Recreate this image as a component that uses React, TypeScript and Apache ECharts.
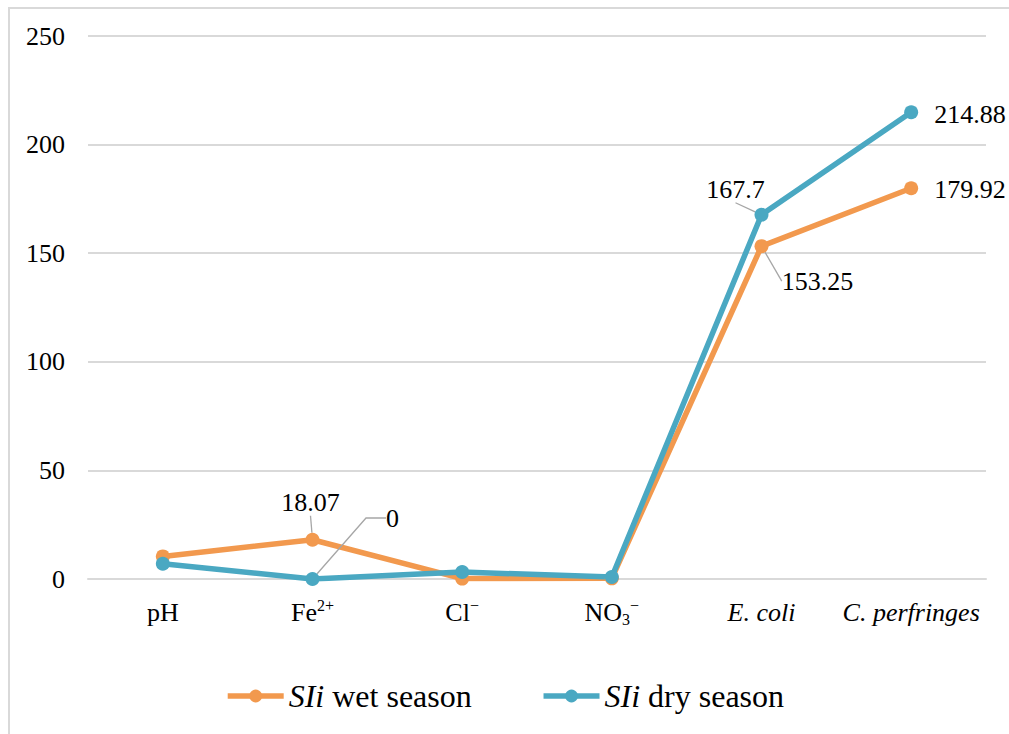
import React, { useEffect, useRef } from 'react';
import * as echarts from 'echarts';

// ---- data ----
const categories = ['pH', 'Fe2+', 'Cl−', 'NO3−', 'E. coli', 'C. perfringes'];
const wetSeason = [10.4, 18.07, 0.2, 0.3, 153.25, 179.92];
const drySeason = [7.0, 0, 3.2, 0.9, 167.7, 214.88];
const seriesNames = ['SIi wet season', 'SIi dry season'];
const wetLabelled = [false, true, false, false, true, true];
const dryLabelled = [false, true, false, false, true, true];
const yMin = 0;
const yMax = 250;
const yInterval = 50;

// ---- styles ----
const FONT = 'Liberation Serif';
const ORANGE = '#F2994E';
const TEAL = '#4AA8C2';
const GRID = '#d9d9d9';
const LEADER = '#a6a6a6';

const categoryRich: Record<string, string> = {
  'pH': 'pH',
  'Fe2+': 'Fe{sup|2+}',
  'Cl−': 'Cl{sup|−}',
  'NO3−': 'NO{sub|3}{sup|−}',
  'E. coli': '{it|E. coli}',
  'C. perfringes': '{it|C. perfringes}',
};

type Place = { position: string; dx: number; dy: number; length2?: number; line: boolean; spacer?: number; lh?: number };
// label placement per [seriesIndex][dataIndex]
const labelPlace: Record<number, Record<number, Place>> = {
  0: {
    1: { position: 'top', dx: -2, dy: -12, line: true },
    4: { position: 'bottom', dx: 56, dy: 10, line: true },
    5: { position: 'right', dx: 11, dy: 1, line: false },
  },
  1: {
    1: { position: 'top', dx: 80, dy: -36, length2: 20, line: true },
    4: { position: 'top', dx: -26, dy: 0, line: true, spacer: 28, lh: 26 },
    5: { position: 'right', dx: 11, dy: 2, line: false },
  },
};

function buildData(values: number[], labelled: boolean[], sIdx: number) {
  return values.map((v, i) => {
    if (!labelled[i]) return { value: v };
    const p = labelPlace[sIdx][i];
    const label: any = { show: true, position: p.position };
    if (p.spacer) {
      label.formatter = (prm: any) => `{sp|}{v|${prm.value}}{sp|}`;
      label.rich = {
        sp: { width: p.spacer, height: 1 },
        v: { fontSize: 26, fontFamily: FONT, color: '#000', lineHeight: p.lh },
      };
    }
    return {
      value: v,
      label,
      labelLine: { show: p.line, length2: p.length2 || 0 },
    };
  });
}

export default function App() {
  const ref = useRef<HTMLDivElement>(null);
  useEffect(() => {
    if (!ref.current) return;
    const chart = echarts.init(ref.current, undefined, { renderer: 'svg' });
    const labelBase = {
      show: false,
      fontSize: 26,
      fontFamily: FONT,
      color: '#000',
    };
    const lineSeries = (name: string, color: string, values: number[], labelled: boolean[], sIdx: number) => ({
      name,
      type: 'line',
      data: buildData(values, labelled, sIdx),
      symbol: 'circle',
      symbolSize: 14,
      color,
      lineStyle: { width: 5.5, color },
      itemStyle: { color },
      label: labelBase,
      labelLine: { show: true, lineStyle: { color: LEADER, width: 1.3 } },
      labelLayout: (params: any) => {
        const p = labelPlace[params.seriesIndex]?.[params.dataIndex];
        if (!p) return {};
        return { dx: p.dx, dy: p.dy };
      },
      emphasis: { disabled: true },
    });
    chart.setOption({
      animation: false,
      textStyle: { fontFamily: FONT },
      graphic: [
        {
          type: 'rect',
          silent: true,
          z: -10,
          shape: { x: 9, y: 8, width: 1300, height: 1000 },
          style: { fill: 'none', stroke: GRID, lineWidth: 2 },
        },
      ],
      grid: { left: 88, right: 23, top: 36, bottom: 155, containLabel: false },
      legend: {
        data: seriesNames,
        bottom: 17,
        left: 'center',
        itemWidth: 56,
        itemHeight: 16,
        itemGap: 69,
        lineStyle: { width: 5.5 },
        formatter: (name: string) => name.replace('SIi', '{it|SIi}'),
        textStyle: {
          fontSize: 32,
          fontFamily: FONT,
          color: '#000',
          rich: {
            it: { fontSize: 32, fontFamily: FONT, fontStyle: 'italic', color: '#000' },
          },
        },
      },
      xAxis: {
        type: 'category',
        data: categories,
        boundaryGap: true,
        axisLine: { show: true, lineStyle: { color: GRID, width: 2 } },
        axisTick: { show: false },
        axisLabel: {
          interval: 0,
          margin: 18,
          fontSize: 26,
          fontFamily: FONT,
          color: '#000',
          lineHeight: 30,
          formatter: (v: string) => categoryRich[v] ?? v,
          rich: {
            sup: { fontSize: 16, fontFamily: FONT, color: '#000', lineHeight: 20, verticalAlign: 'top' },
            sub: { fontSize: 16, fontFamily: FONT, color: '#000', lineHeight: 18, verticalAlign: 'bottom' },
            it: { fontSize: 26, fontFamily: FONT, color: '#000', fontStyle: 'italic', lineHeight: 30 },
          },
        },
      },
      yAxis: {
        type: 'value',
        min: yMin,
        max: yMax,
        interval: yInterval,
        axisLine: { show: false },
        axisTick: { show: false },
        splitLine: { show: true, lineStyle: { color: GRID, width: 2 } },
        axisLabel: { margin: 23, fontSize: 26, fontFamily: FONT, color: '#000' },
      },
      series: [
        lineSeries(seriesNames[0], ORANGE, wetSeason, wetLabelled, 0),
        lineSeries(seriesNames[1], TEAL, drySeason, dryLabelled, 1),
      ],
    });
    return () => chart.dispose();
  }, []);
  return (
    <div
      ref={ref}
      style={{ position: 'absolute', left: 0, top: 0, width: 1009, height: 734, background: '#fff' }}
    />
  );
}
